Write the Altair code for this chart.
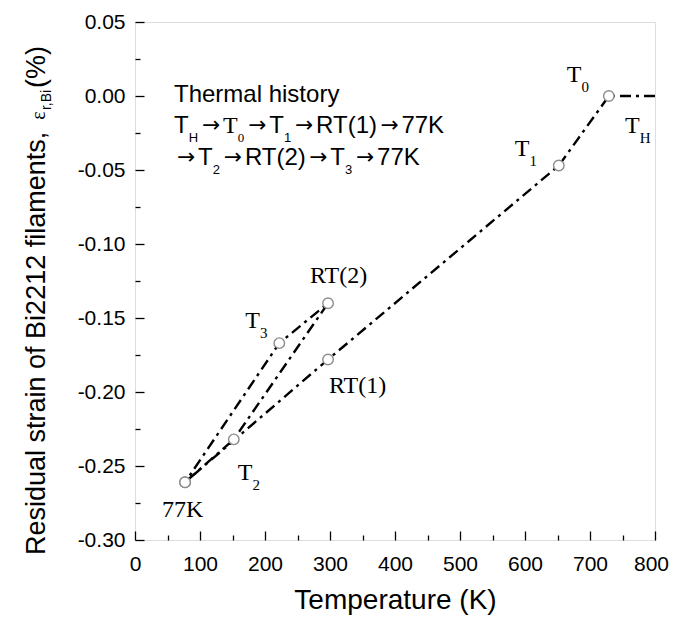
import altair as alt
import pandas as pd

# ---------------- data ----------------
temps = [800, 729, 652, 297, 77, 152, 297, 222, 77]
strains = [0.000, 0.000, -0.047, -0.178, -0.261, -0.232, -0.140, -0.167, -0.261]
stage = ["TH", "T0", "T1", "RT(1)", "77K", "T2", "RT(2)", "T3", "77K"]
has_marker = [False, True, True, True, True, True, True, True, True]

label_main = ["T", "T", "T", "RT(1)", "77K", "T", "RT(2)", "T"]
label_sub = ["H", "0", "1", "", "", "2", "", "3"]

x_major = [0, 100, 200, 300, 400, 500, 600, 700, 800]
x_minor = [50, 150, 250, 350, 450, 550, 650, 750]
y_major = [-0.30, -0.25, -0.20, -0.15, -0.10, -0.05, 0.00, 0.05]
y_minor = [-0.275, -0.225, -0.175, -0.125, -0.075, -0.025, 0.025]

# ---------------- layout / style ----------------
SANS = "Liberation Sans"
SERIF = "Liberation Serif"
ARROWF = "DejaVu Sans"
W, H = 520, 518
XDOM = [0, 800]
YDOM = [-0.30, 0.05]
ARROW_SLOT = 24

# label offsets in pixels relative to their points (index order of label arrays)
label_off = [(-30, 37), (-42, -14), (-44, -10), (1, 34), (-23, 35), (4, 41), (-18, -20), (-34, -15)]

W_SANS = {'T': 611, 'h': 556, 'e': 556, 'r': 333, 'm': 833, 'a': 556, 'l': 222, ' ': 278,
          'i': 222, 's': 500, 't': 278, 'o': 556, 'y': 500, 'H': 722, 'R': 722, 'K': 667,
          '(': 333, ')': 333, ',': 278, 'B': 667, '%': 889, 'd': 556, 'u': 556,
          'n': 556, 'f': 278}
W_SERIF = {'T': 611, 'H': 722, 'R': 667, 'K': 722, '(': 333, ')': 333, 'ε': 439}


def tw(s, fam, size):
    tab = W_SANS if fam == SANS else W_SERIF
    dflt = 556 if fam == SANS else 500
    return sum(tab.get(c, dflt) for c in s) * size / 1000.0


xs = alt.Scale(domain=XDOM, nice=False, zero=False)
ys = alt.Scale(domain=YDOM, nice=False, zero=False)

path = pd.DataFrame({"T": temps, "e": strains, "stage": stage,
                     "i": list(range(len(temps))), "m": has_marker})

layers = []

# main dash-dot path with major axes
layers.append(
    alt.Chart(path).mark_line(color="black", strokeWidth=2.4, strokeDash=[11, 5, 3, 5])
    .encode(
        x=alt.X("T:Q", scale=xs, axis=alt.Axis(
            orient="bottom", values=x_major, format="d", tickSize=9, offset=-9, domain=False,
            grid=False, tickColor="black", tickWidth=1.3, labelFont=SANS, labelFontSize=21,
            labelColor="black", labelPadding=13, labelFlush=False,
            labelOffset={"condition": {"test": "datum.value == 800", "value": -4}, "value": 0},
            title="Temperature (K)",
            titleFont=SANS, titleFontSize=28, titleFontWeight="normal", titleColor="black",
            titlePadding=12)),
        y=alt.Y("e:Q", scale=ys, axis=alt.Axis(
            orient="left", values=y_major, tickSize=9, offset=-9, domain=False, grid=False,
            tickColor="black", tickWidth=1.3, labelFont=SANS, labelFontSize=21,
            labelColor="black", labelPadding=10, labelFlush=False, title="",
            labelExpr="replace(format(datum.value, '.2f'), '\u2212', '-')")),
        order="i:Q",
    )
)

# markers with minor-tick axes
layers.append(
    alt.Chart(path).transform_filter("datum.m").mark_point(
        shape="circle", size=110, filled=True, fill="white", stroke="#8c8c8c",
        strokeWidth=1.4, opacity=1)
    .encode(
        x=alt.X("T:Q", scale=xs, axis=alt.Axis(
            orient="bottom", values=x_minor, tickSize=5, offset=-5, domain=False, grid=False,
            labels=False, tickColor="black", tickWidth=1.3, title="")),
        y=alt.Y("e:Q", scale=ys, axis=alt.Axis(
            orient="left", values=y_minor, tickSize=5, offset=-5, domain=False, grid=False,
            labels=False, tickColor="black", tickWidth=1.3, title="")),
    )
)


def seg_layer(x, y, txt, fam, fs, dx, dy, align="left"):
    return (
        alt.Chart(pd.DataFrame({"x": [x], "y": [y], "t": [txt]}))
        .mark_text(align=align, baseline="alphabetic", dx=dx, dy=dy, font=fam,
                   fontSize=fs, color="black")
        .encode(x=alt.X("x:Q", scale=xs, axis=None),
                y=alt.Y("y:Q", scale=ys, axis=None), text="t:N")
    )


def rich(segments, x, y, dx0, dy0, size, subsize, drop):
    out = []
    cur = dx0
    for txt, kind, fam in segments:
        if kind == "a":  # arrow in a fixed-width slot
            out.append(seg_layer(x, y, "→", ARROWF, size * 0.9, cur + ARROW_SLOT / 2.0,
                                 dy0 - 1, align="center"))
            cur += ARROW_SLOT
            continue
        fs = size if kind == "m" else subsize
        dy = dy0 + (drop if kind == "s" else 0)
        out.append(seg_layer(x, y, txt, fam, fs, cur, dy))
        cur += tw(txt, fam, fs) + (1 if kind == "s" else 0)
    return out


# point labels (serif with subscripts)
for k in range(len(label_main)):
    segs = [(label_main[k], "m", SERIF)]
    if label_sub[k]:
        segs.append((label_sub[k], "s", SERIF))
    dx0, dy0 = label_off[k]
    layers += rich(segs, temps[k], strains[k], dx0, dy0, 24, 15, 10)

# thermal-history annotation
A = ("→", "a", ARROWF)
ann_x = 60
ann_lines = [
    (-0.0041, [("Thermal history", "m", SANS)]),
    (-0.0250, [("T", "m", SANS), ("H", "s", SANS), A, ("T", "m", SERIF),
               ("0", "s", SERIF), A, ("T", "m", SANS), ("1", "s", SANS), A,
               ("RT(1)", "m", SANS), A, ("77K", "m", SANS)]),
    (-0.0466, [A, ("T", "m", SANS), ("2", "s", SANS), A, ("RT(2)", "m", SANS), A,
               ("T", "m", SANS), ("3", "s", SANS), A, ("77K", "m", SANS)]),
]
for yy, segs in ann_lines:
    layers += rich(segs, ann_x, yy, 0, 0, 24, 13, 9)

# rotated y-axis title built from pieces (pixel positions relative to plot origin)
ytitle = [("Residual strain of Bi2212 filaments,", "m", SANS, 27, 0),
          ("ε", "m", SERIF, 20, 0),
          ("r,Bi", "s", SANS, 14, 6),
          ("(%)", "m", SANS, 27, 0)]
gaps = [0, 12, 1, 1]
base_x = -90
cur_y = 533
for (txt, kind, fam, fs, shift), g in zip(ytitle, gaps):
    cur_y -= g
    layers.append(
        alt.Chart(pd.DataFrame({"t": [txt]}))
        .mark_text(align="left", baseline="alphabetic", angle=270, font=fam, fontSize=fs,
                   color="black")
        .encode(x=alt.value(base_x + shift), y=alt.value(cur_y), text="t:N")
    )
    cur_y -= tw(txt, fam, fs)

chart = (
    alt.layer(*layers)
    .resolve_axis(x="independent", y="independent")
    .properties(width=W, height=H, autosize=alt.AutoSizeParams(type="none"),
                padding={"left": 127, "top": 14, "right": 15, "bottom": 86})
    .configure_view(stroke="black", strokeWidth=1.6)
    .configure(background="white")
)

chart.save("out.html", embed_options={"renderer": "svg", "actions": False})
